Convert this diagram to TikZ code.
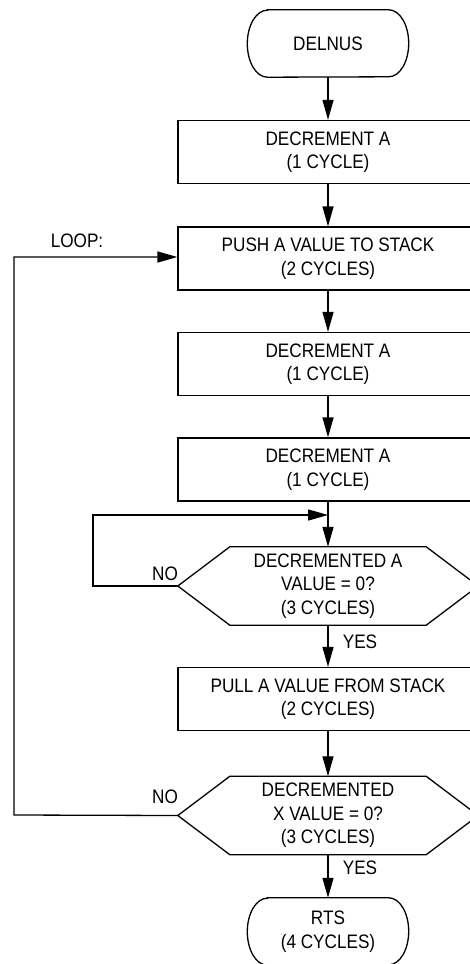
\documentclass[tikz,border=0pt]{standalone}
\usepackage{fontspec}
\setmainfont{Liberation Sans}[FakeStretch=0.88]
\usetikzlibrary{arrows.meta,calc}
\begin{document}
\begin{tikzpicture}[x=1pt,y=-1pt,
  every node/.style={font=\fontsize{19.5}{23.5}\selectfont, align=center, inner sep=0pt},
  boxnode/.style={draw, line width=1.3pt, minimum width=300pt, minimum height=63pt},
  termnode/.style={minimum width=161pt, minimum height=67pt},
  hexnode/.style={minimum width=300pt, minimum height=78pt},
  lbl/.style={},
  conn/.style={line width=1.3pt, -{Triangle[length=20pt,width=11pt]}},
  plain/.style={line width=1.3pt}
]
\useasboundingbox (0,0) rectangle (470,964);
\clip (0,0) rectangle (470,964);

\node[termnode] (start) at (328,43.5) {DELNUS};
\node[boxnode] (b1) at (328,152) {DECREMENT A\\(1 CYCLE)};
\node[boxnode] (b2) at (328,258.5) {PUSH A VALUE TO STACK\\(2 CYCLES)};
\node[boxnode] (b3) at (328,364) {DECREMENT A\\(1 CYCLE)};
\node[boxnode] (b4) at (328,469.5) {DECREMENT A\\(1 CYCLE)};
\node[hexnode] (h1) at (328,586) {DECREMENTED A\\VALUE = 0?\\(3 CYCLES)};
\node[boxnode] (b5) at (328,699) {PULL A VALUE FROM STACK\\(2 CYCLES)};
\node[hexnode] (h2) at (328,815.5) {DECREMENTED\\X VALUE = 0?\\(3 CYCLES)};
\node[termnode] (rts) at (328,931.5) {RTS\\(4 CYCLES)};

% terminal outlines
\foreach \t in {start,rts}{
  \draw[plain] ([xshift=20pt]\t.north west) -- ([xshift=-20pt]\t.north east)
    arc[start angle=90,end angle=-90,x radius=20pt,y radius=33.5pt]
    -- ([xshift=20pt]\t.south west)
    arc[start angle=270,end angle=90,x radius=20pt,y radius=33.5pt] -- cycle;
}
% hexagon outlines
\foreach \h in {h1,h2}{
  \draw[plain] (\h.west) -- ([xshift=52pt]\h.north west) -- ([xshift=-52pt]\h.north east)
    -- (\h.east) -- ([xshift=-52pt]\h.south east) -- ([xshift=52pt]\h.south west) -- cycle;
}

\coordinate (m1) at (328,515);
\coordinate (c1a) at (93,586);
\coordinate (c1b) at (93,515);
\coordinate (c2a) at (14,815);
\coordinate (c2b) at (14,257);

\draw[conn] (start.south) -- (b1.north);
\draw[conn] (b1.south) -- (b2.north);
\draw[conn] (b2.south) -- (b3.north);
\draw[conn] (b3.south) -- (b4.north);
\draw[conn] (b4.south) -- (h1.north);
\draw[conn] (h1.west) -- (c1a) -- (c1b) -- (m1);
\draw[conn] (h1.south) -- (b5.north);
\draw[conn] (b5.south) -- (h2.north);
\draw[conn] (h2.south) -- (rts.north);
\draw[conn] (h2.west) -- (c2a) -- (c2b) -- (b2.west |- c2b);

\node[lbl] (loop) at (77,241) {LOOP:};
\node[lbl] (no1) at (165,574) {NO};
\node[lbl] (no2) at (165,797) {NO};
\node[lbl] (yes1) at (360,642) {YES};
\node[lbl] (yes2) at (360,868) {YES};
\end{tikzpicture}
\end{document}
